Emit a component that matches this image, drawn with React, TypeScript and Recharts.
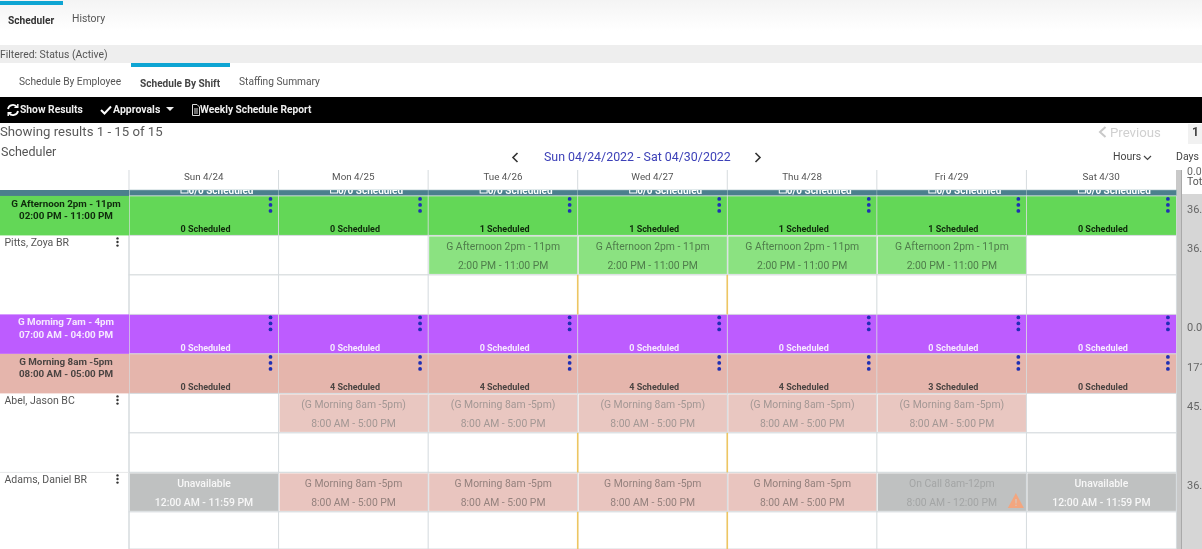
import { BarChart, Bar, XAxis, YAxis, ReferenceLine } from "recharts";

const days = ["Sun 4/24", "Mon 4/25", "Tue 4/26", "Wed 4/27", "Thu 4/28", "Fri 4/29", "Sat 4/30"];

// every grid row is one unit tall, except the cut-off ones
const rowKeys = ["strip", "afternoon", "pitts", "pittsBlank", "morning7", "morning8", "abel", "abelBlank", "adams", "adamsBlank"];
const rowSpans = [0.15, 1, 1, 1, 1, 1, 1, 1, 1, 0.94];
const rowTotals = ["", "36.0", "36.0", "", "0.00", "171", "45.0", "", "36.0", ""];

const afternoonScheduled = [0, 0, 1, 1, 1, 1, 0];
const morning7Scheduled = [0, 0, 0, 0, 0, 0, 0];
const morning8Scheduled = [0, 4, 4, 4, 4, 3, 0];

const pittsShifts = ["", "", "G Afternoon 2pm - 11pm", "G Afternoon 2pm - 11pm", "G Afternoon 2pm - 11pm", "G Afternoon 2pm - 11pm", ""];
const pittsTimes = ["", "", "2:00 PM - 11:00 PM", "2:00 PM - 11:00 PM", "2:00 PM - 11:00 PM", "2:00 PM - 11:00 PM", ""];
const abelShifts = ["", "(G Morning 8am -5pm)", "(G Morning 8am -5pm)", "(G Morning 8am -5pm)", "(G Morning 8am -5pm)", "(G Morning 8am -5pm)", ""];
const abelTimes = ["", "8:00 AM - 5:00 PM", "8:00 AM - 5:00 PM", "8:00 AM - 5:00 PM", "8:00 AM - 5:00 PM", "8:00 AM - 5:00 PM", ""];
const adamsShifts = ["Unavailable", "G Morning 8am -5pm", "G Morning 8am -5pm", "G Morning 8am -5pm", "G Morning 8am -5pm", "On Call 8am-12pm", "Unavailable"];
const adamsTimes = ["12:00 AM - 11:59 PM", "8:00 AM - 5:00 PM", "8:00 AM - 5:00 PM", "8:00 AM - 5:00 PM", "8:00 AM - 5:00 PM", "8:00 AM - 12:00 PM", "12:00 AM - 11:59 PM"];

const markerDays = ["Wed 4/27", "Thu 4/28"];
const markerSpans = [[2.15, 3.15], [6.15, 7.15], [8.15, 9.09]];

const chartData = days.map((day) => {
  const row: Record<string, string | number> = { day };
  rowKeys.forEach((k, i) => (row[k] = rowSpans[i]));
  return row;
});

let acc = 0;
const rowMids = rowSpans.map((s) => {
  const mid = acc + s / 2;
  acc += s;
  return mid;
});

const FONT = "Roboto, sans-serif";
const GRID = "#d6dbde";
const BAND_H = 39.5;

const headerColors: Record<string, { fill: string; text: string; label: string }> = {
  afternoon: { fill: "#63d757", text: "#0f2a0c", label: "#0f2a0c" },
  morning7: { fill: "#bd5cff", text: "#f6e9ff", label: "#f6e9ff" },
  morning8: { fill: "#e5b5ac", text: "#4a4442", label: "#4a4442" },
};
const headerCounts: Record<string, number[]> = {
  afternoon: afternoonScheduled,
  morning7: morning7Scheduled,
  morning8: morning8Scheduled,
};
const assignRows: Record<string, { shifts: string[]; times: string[] }> = {
  pitts: { shifts: pittsShifts, times: pittsTimes },
  abel: { shifts: abelShifts, times: abelTimes },
  adams: { shifts: adamsShifts, times: adamsTimes },
};
const rowLabels: Record<string, string[]> = {
  afternoon: ["G Afternoon 2pm - 11pm", "02:00 PM - 11:00 PM"],
  morning7: ["G Morning 7am - 4pm", "07:00 AM - 04:00 PM"],
  morning8: ["G Morning 8am -5pm", "08:00 AM - 05:00 PM"],
  pitts: ["Pitts, Zoya BR"],
  abel: ["Abel, Jason BC"],
  adams: ["Adams, Daniel BR"],
};

function assignStyle(shift: string) {
  if (shift.startsWith("G Afternoon")) return { fill: "#8be281", color: "#4f7d4b", weight: 400 };
  if (shift === "Unavailable") return { fill: "#bfc1c1", color: "#f7f7f7", weight: 500 };
  if (shift.startsWith("On Call")) return { fill: "#bfc1c1", color: "#a3a5a5", weight: 400 };
  if (shift.startsWith("(")) return { fill: "#e9c7c1", color: "#a39794", weight: 400 };
  return { fill: "#e9c5bf", color: "#94817d", weight: 400 };
}

function DotsMenu({ x, y, color, r, gap }: { x: number; y: number; color: string; r: number; gap: number }) {
  return (
    <g fill={color}>
      <circle cx={x} cy={y} r={r} />
      <circle cx={x} cy={y + gap} r={r} />
      <circle cx={x} cy={y + gap * 2} r={r} />
    </g>
  );
}

function makeCell(rowKey: string) {
  return function CellShape(props: any) {
    const { x, width, index } = props;
    // the y axis is reversed, so the bar comes with a negative height
    const y = Math.min(props.y, props.y + props.height);
    const height = Math.abs(props.height);
    const cx = x + width / 2;

    if (rowKey === "strip") {
      const id = `strip-${index}`;
      return (
        <g>
          <clipPath id={id}>
            <rect x={x} y={y} width={width} height={height} />
          </clipPath>
          <rect x={x} y={y} width={width} height={height} fill="#4b7f8d" stroke="#9db9c1" strokeWidth={0.6} />
          <g clipPath={`url(#${id})`}>
            <rect x={cx - 23} y={y - 3} width={7} height={6} fill="none" stroke="#fff" strokeWidth={1} />
            <text x={cx + 17} y={y + 4} textAnchor="middle" fontFamily={FONT} fontSize={10} fontWeight={700} fill="#fff">
              0/0 Scheduled
            </text>
          </g>
        </g>
      );
    }

    if (headerColors[rowKey]) {
      const c = headerColors[rowKey];
      return (
        <g>
          <rect x={x} y={y} width={width} height={height} fill={c.fill} stroke={GRID} strokeWidth={0.8} />
          <DotsMenu x={x + width - 8.5} y={y + 3} color="#1f2fb4" r={1.9} gap={6} />
          <text x={cx + 1.5} y={y + 36.5} textAnchor="middle" fontFamily={FONT} fontSize={9} fontWeight={700} fill={c.text}>
            {headerCounts[rowKey][index]} Scheduled
          </text>
        </g>
      );
    }

    const assign = assignRows[rowKey];
    const shift = assign ? assign.shifts[index] : "";
    return (
      <g>
        <rect x={x} y={y} width={width} height={height} fill="#fff" stroke={GRID} strokeWidth={1} />
        {shift && assign && (() => {
          const s = assignStyle(shift);
          return (
            <g>
              <rect x={x + 1} y={y + 1} width={width - 1.5} height={height - 2} fill={s.fill} />
              <text x={cx} y={y + 14.5} textAnchor="middle" fontFamily={FONT} fontSize={10.4} fontWeight={s.weight} fill={s.color}>
                {shift}
              </text>
              <text x={cx} y={y + 33.5} textAnchor="middle" fontFamily={FONT} fontSize={10.4} fontWeight={s.weight} fill={s.color}>
                {assign.times[index]}
              </text>
              {shift.startsWith("On Call") && (
                <g>
                  <path d={`M${x + 139} ${y + 20.5} l8 15 h-16 z`} fill="#f3a67f" />
                  <text x={x + 139} y={y + 34} textAnchor="middle" fontFamily={FONT} fontSize={9} fontWeight={700} fill="#d9c4b8">
                    !
                  </text>
                </g>
              )}
            </g>
          );
        })()}
      </g>
    );
  };
}

function RowTick(props: any) {
  const { y, index } = props;
  const key = rowKeys[index];
  const total = rowTotals[index];
  const top = y - BAND_H / 2;
  const lines = rowLabels[key];
  const header = headerColors[key];
  return (
    <g>
      {key === "strip" && <rect x={0} y={190} width={129} height={6} fill="#4b7f8d" />}
      {key === "adams" && <line x1={0} x2={129} y1={top} y2={top} stroke="#e6e8e9" />}
      {header && <rect x={0} y={top} width={129} height={BAND_H} fill={header.fill} />}
      {header && (
        <g fontFamily={FONT} fontSize={9.8} fontWeight={700} fill={header.label} textAnchor="middle">
          <text x={66} y={top + 11}>{lines[0]}</text>
          <text x={66} y={top + 23.5}>{lines[1]}</text>
        </g>
      )}
      {lines && !header && (
        <g>
          <text x={4.5} y={top + 11} fontFamily={FONT} fontSize={10.5} fill="#555">{lines[0]}</text>
          <DotsMenu x={117.5} y={top + 3} color="#333" r={1.2} gap={3.6} />
        </g>
      )}
      {total && (
        <text x={1187} y={top + 17} fontFamily={FONT} fontSize={11} fill="#666">{total}</text>
      )}
    </g>
  );
}

function DayTick(props: any) {
  const { x, payload } = props;
  return (
    <g>
      <line x1={x - 74.8} x2={x - 74.8} y1={170} y2={190} stroke={GRID} />
      <text x={x} y={180} textAnchor="middle" fontFamily={FONT} fontSize={9.8} fill="#555">
        {payload.value}
      </text>
    </g>
  );
}

const abs = (left: number, top: number, extra: React.CSSProperties = {}): React.CSSProperties => ({
  position: "absolute",
  left,
  top,
  whiteSpace: "nowrap",
  lineHeight: "14px",
  ...extra,
});

function PageChrome() {
  return (
    <>
      <div style={abs(0, 0, { width: 1202, height: 45, background: "linear-gradient(#f4f4f4, #fff 70%)" })} />
      <div style={abs(0, 1, { width: 63, height: 4, background: "#0ea5d3" })} />
      <div style={abs(8, 14, { fontSize: 10.2, fontWeight: 700, color: "#333" })}>Scheduler</div>
      <div style={abs(72, 12, { fontSize: 10.4, color: "#555" })}>History</div>
      <div style={abs(0, 45, { width: 1202, height: 18, background: "#eeeeee" })} />
      <div style={abs(0, 48, { fontSize: 10.4, color: "#555" })}>Filtered: Status (Active)</div>
      <div style={abs(131, 63, { width: 99, height: 4, background: "#0ea5d3" })} />
      <div style={abs(19, 75, { fontSize: 10.2, color: "#555" })}>Schedule By Employee</div>
      <div style={abs(140, 77, { fontSize: 10.1, fontWeight: 700, color: "#444" })}>Schedule By Shift</div>
      <div style={abs(239, 75, { fontSize: 10.2, color: "#555" })}>Staffing Summary</div>

      <div style={abs(0, 97, { width: 1202, height: 26, background: "#000" })} />
      <svg style={abs(6, 103)} width={14} height={14} viewBox="0 0 14 14" fill="none" stroke="#fff" strokeWidth={1.8}>
        <path d="M2 6a5 5 0 0 1 9-2M12 8a5 5 0 0 1-9 2" />
        <path d="M11.8 1v3.4H8.4M2.2 13V9.6h3.4" strokeWidth={1.4} />
      </svg>
      <div style={abs(20, 103, { fontSize: 10.3, fontWeight: 700, color: "#eee" })}>Show Results</div>
      <svg style={abs(100, 104)} width={12} height={12} viewBox="0 0 12 12" fill="none" stroke="#fff" strokeWidth={2}>
        <path d="M1 6l3.5 3.5L11 2.5" />
      </svg>
      <div style={abs(113, 103, { fontSize: 10.5, fontWeight: 700, color: "#eee" })}>Approvals</div>
      <svg style={abs(166, 107)} width={8} height={5} viewBox="0 0 8 5" fill="#eee">
        <path d="M0 0h8L4 4z" />
      </svg>
      <svg style={abs(192, 104)} width={8} height={12} viewBox="0 0 8 12" fill="none" stroke="#ddd" strokeWidth={1}>
        <path d="M.5.5h4.5l2.5 2.5v8.5h-7zM2 5h4M2 7h4M2 9h4" />
      </svg>
      <div style={abs(200, 103, { fontSize: 10.2, fontWeight: 700, color: "#eee" })}>Weekly Schedule Report</div>

      <div style={abs(0, 125, { fontSize: 13.2, color: "#5a5a5a" })}>Showing results 1 - 15 of 15</div>
      <div style={abs(1, 145, { fontSize: 12.5, color: "#555" })}>Scheduler</div>
      <svg style={abs(1098, 126)} width={9} height={12} viewBox="0 0 9 12" fill="none" stroke="#c9c9c9" strokeWidth={2}>
        <path d="M7.5 1L2 6l5.5 5" />
      </svg>
      <div style={abs(1110, 126, { fontSize: 13.2, color: "#d0d0d0" })}>Previous</div>
      <div style={abs(1188, 124, { width: 14, height: 20, background: "#f1f1f1" })} />
      <div style={abs(1192, 125, { fontSize: 12, fontWeight: 700, color: "#444" })}>1</div>

      <svg style={abs(511, 152)} width={8} height={11} viewBox="0 0 8 11" fill="none" stroke="#333" strokeWidth={1.6}>
        <path d="M6.5 1L2 5.5 6.5 10" />
      </svg>
      <div style={abs(544, 150, { fontSize: 12.4, color: "#3d41b8" })}>Sun 04/24/2022 - Sat 04/30/2022</div>
      <svg style={abs(754, 152)} width={8} height={11} viewBox="0 0 8 11" fill="none" stroke="#333" strokeWidth={1.6}>
        <path d="M1.5 1L6 5.5 1.5 10" />
      </svg>
      <div style={abs(1113, 150, { fontSize: 10.5, color: "#444" })}>Hours</div>
      <svg style={abs(1143, 155)} width={9} height={6} viewBox="0 0 9 6" fill="none" stroke="#444" strokeWidth={1.2}>
        <path d="M1 1l3.5 3.5L8 1" />
      </svg>
      <div style={abs(1176, 150, { fontSize: 10.5, color: "#444" })}>Days</div>

      {/* totals panel on the right, row numbers come from the axis ticks */}
      <div style={abs(1176, 170, { width: 26, height: 379, background: "#d6d6d6" })} />
      <div style={abs(1176, 170, { width: 6, height: 379, background: "#c9c9c9", borderRight: "1px solid #a9a9a9", boxSizing: "border-box" })} />
      <div style={abs(1182, 170, { width: 20, height: 24, background: "#fff" })} />
      <div style={abs(1187, 165, { fontSize: 10.5, color: "#666" })}>0.00</div>
      <div style={abs(1187, 175, { fontSize: 10.5, color: "#555" })}>Total</div>
    </>
  );
}

export default function App() {
  return (
    <div style={{ position: "absolute", left: 0, top: 0, width: 1202, height: 549, overflow: "hidden", background: "#fff", fontFamily: FONT, filter: "blur(0.3px)" }}>
      <PageChrome />
      <div style={{ position: "absolute", left: 0, top: 0 }}>
        <BarChart
          width={1202}
          height={549}
          data={chartData}
          margin={{ top: 166, right: 26, bottom: 0, left: 0 }}
          barCategoryGap={0}
        >
          <XAxis
            dataKey="day"
            orientation="top"
            height={24}
            axisLine={false}
            tickLine={false}
            interval={0}
            tick={DayTick}
          />
          <YAxis
            type="number"
            reversed
            width={129}
            domain={[0, 9.09]}
            ticks={rowMids}
            interval={0}
            axisLine={false}
            tickLine={false}
            tick={RowTick}
          />
          {rowKeys.map((key) => (
            <Bar key={key} dataKey={key} stackId="rows" isAnimationActive={false} shape={makeCell(key)} />
          ))}
          <ReferenceLine x={days[0]} position="start" stroke={GRID} />
          {markerDays.flatMap((d) =>
            markerSpans.map(([from, to]) => (
              <ReferenceLine
                key={d + from}
                position="start"
                stroke="#eec662"
                strokeWidth={1.6}
                segment={[{ x: d, y: from }, { x: d, y: to }]}
              />
            ))
          )}
        </BarChart>
      </div>
    </div>
  );
}
